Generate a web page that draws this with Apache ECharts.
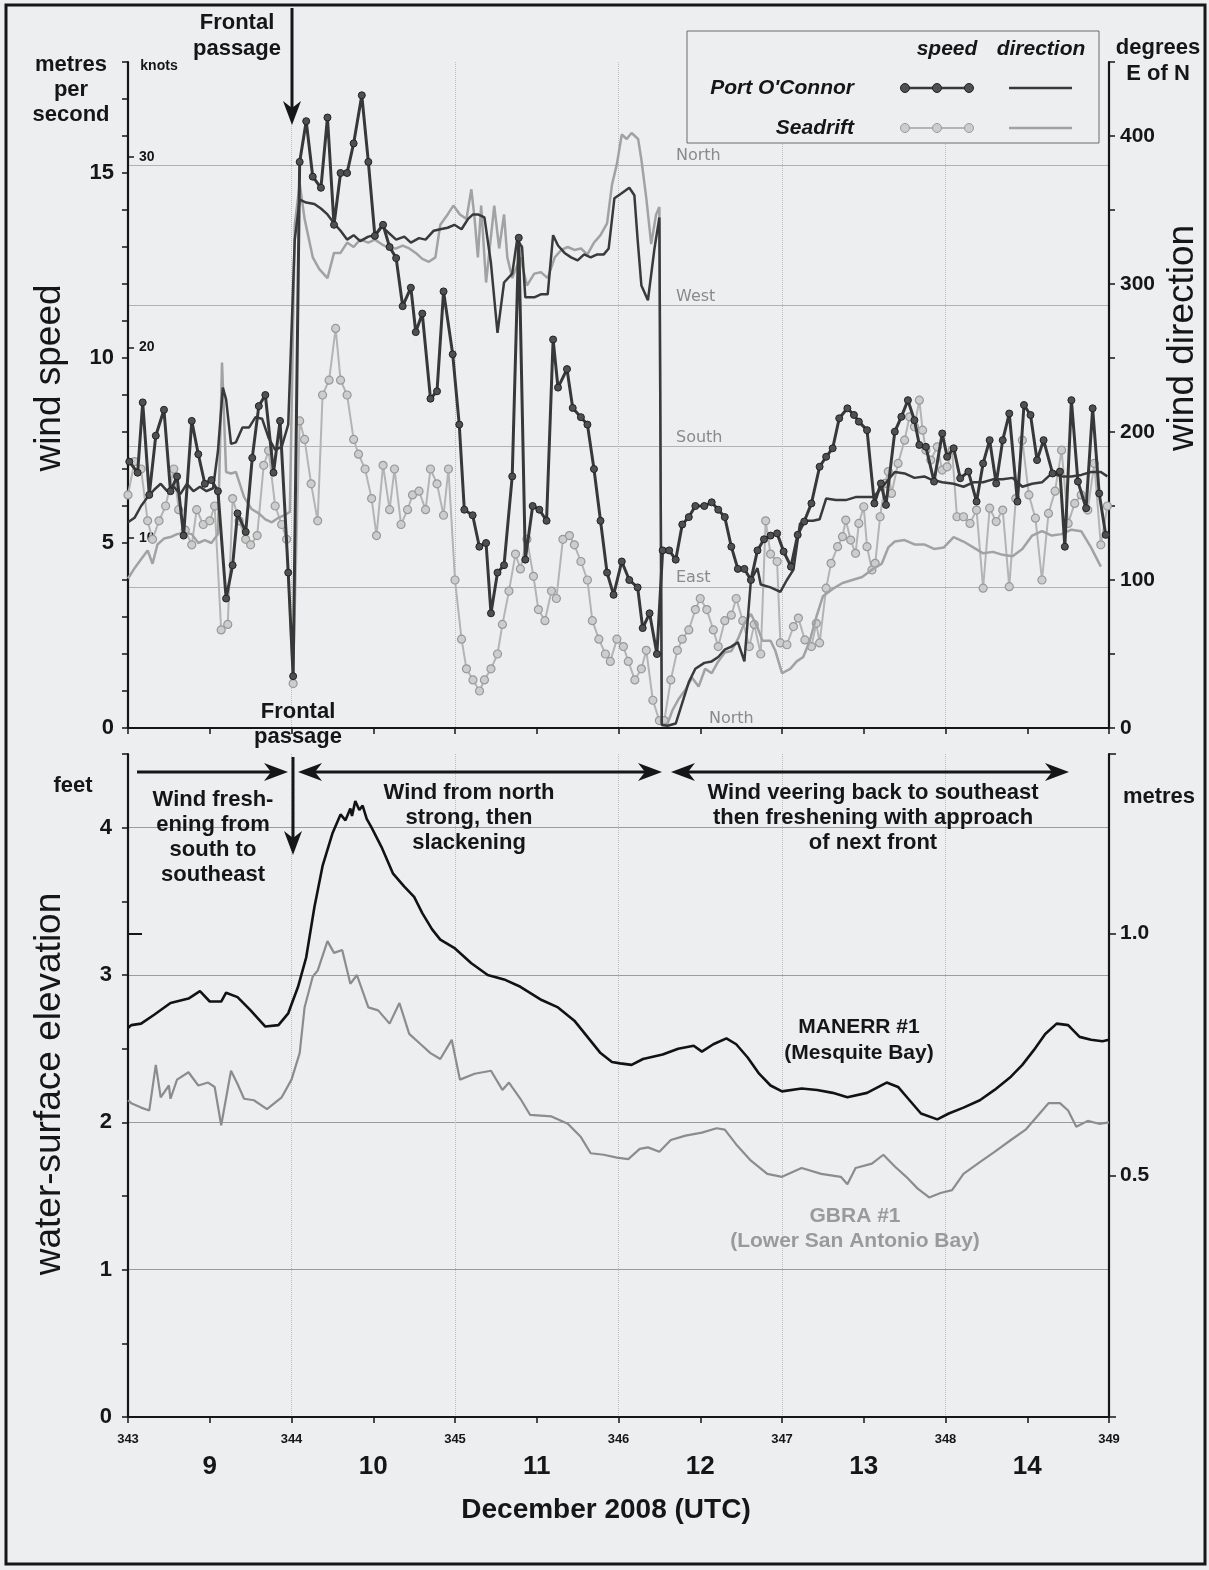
<!DOCTYPE html>
<html>
<head>
<meta charset="utf-8">
<script src="https://cdn.jsdelivr.net/npm/echarts@6/dist/echarts.min.js"></script>
<style>
  html, body { margin: 0; padding: 0; background: #eceef0; }
  #chart { width: 1209px; height: 1570px; }
</style>
</head>
<body>
<div id="chart"></div>
<script>
// ---- Wind at Port O'Connor and Seadrift, December 2008 (day of year, UTC) ----
// speed in metres per second
const portOConnorSpeed = [
  [343.008,7.2],[343.059,6.9],[343.09,8.8],[343.13,6.3],[343.17,7.9],[343.22,8.6],[343.26,6.4],[343.30,6.8],
  [343.34,5.2],[343.39,8.3],[343.43,7.4],[343.47,6.6],[343.51,6.7],[343.55,6.4],[343.60,3.5],[343.64,4.4],
  [343.67,5.8],[343.72,5.3],[343.76,7.3],[343.80,8.7],[343.84,9.0],[343.89,6.9],[343.93,8.3],[343.98,4.2],
  [344.01,1.4],[344.05,15.3],[344.09,16.4],[344.13,14.9],[344.18,14.6],[344.22,16.5],[344.26,13.6],[344.30,15.0],
  [344.34,15.0],[344.38,15.8],[344.43,17.1],[344.47,15.3],[344.51,13.3],[344.56,13.6],[344.60,13.0],[344.64,12.7],
  [344.68,11.4],[344.73,11.9],[344.76,10.7],[344.80,11.2],[344.85,8.9],[344.89,9.1],[344.93,11.8],[344.986,10.1],
  [345.026,8.2],[345.057,5.9],[345.108,5.75],[345.149,4.9],[345.19,5.0],[345.22,3.1],[345.26,4.2],[345.30,4.4],
  [345.35,6.8],[345.39,13.25],[345.43,4.55],[345.475,6.0],[345.516,5.9],[345.56,5.6],[345.60,10.5],[345.63,9.2],
  [345.685,9.7],[345.72,8.65],[345.77,8.4],[345.81,8.2],[345.85,7.0],[345.89,5.6],[345.93,4.2],[345.97,3.6],
  [346.02,4.5],[346.066,4.0],[346.117,3.8],[346.148,2.7],[346.19,3.1],[346.235,2.0],[346.27,4.8],[346.31,4.8],
  [346.35,4.55],[346.39,5.5],[346.43,5.7],[346.47,6.0],[346.525,6.0],[346.57,6.1],[346.61,5.9],[346.65,5.7],
  [346.69,4.9],[346.73,4.3],[346.77,4.3],[346.81,4.0],[346.85,4.8],[346.89,5.1],[346.93,5.2],[346.97,5.26],
  [347.01,4.77],[347.055,4.36],[347.096,5.22],[347.136,5.58],[347.18,6.07],[347.23,7.06],[347.27,7.33],[347.31,7.56],
  [347.35,8.37],[347.40,8.64],[347.44,8.46],[347.47,8.28],[347.52,8.05],[347.565,6.07],[347.605,6.61],[347.636,6.03],
  [347.69,8.01],[347.73,8.41],[347.77,8.86],[347.81,8.32],[347.84,7.65],[347.88,7.60],[347.93,6.66],[347.98,7.96],
  [348.01,7.33],[348.05,7.56],[348.09,6.75],[348.14,6.93],[348.19,6.12],[348.23,7.15],[348.27,7.78],[348.31,6.61],
  [348.35,7.78],[348.39,8.5],[348.44,6.12],[348.48,8.73],[348.52,8.46],[348.56,7.24],[348.60,7.78],[348.655,6.88],
  [348.70,6.93],[348.73,4.9],[348.77,8.86],[348.81,6.66],[348.86,5.94],[348.90,8.64],[348.94,6.34],[348.98,5.22]
];

const seadriftSpeed = [
  [343.00,6.3],[343.04,7.2],[343.08,7.0],[343.12,5.6],[343.15,5.1],[343.19,5.6],[343.23,6.0],[343.28,7.0],
  [343.31,5.9],[343.35,5.35],[343.39,4.95],[343.42,5.9],[343.46,5.5],[343.50,5.6],[343.53,6.0],[343.57,2.65],
  [343.61,2.8],[343.64,6.2],[343.68,5.6],[343.72,5.1],[343.75,4.95],[343.79,5.2],[343.83,7.1],[343.86,7.5],
  [343.90,6.0],[343.94,5.5],[343.97,5.1],[344.01,1.2],[344.05,8.3],[344.08,7.8],[344.12,6.6],[344.16,5.6],
  [344.19,9.0],[344.23,9.4],[344.27,10.8],[344.30,9.4],[344.34,9.0],[344.38,7.8],[344.41,7.4],[344.45,7.0],
  [344.49,6.2],[344.52,5.2],[344.56,7.1],[344.60,5.9],[344.63,7.0],[344.67,5.5],[344.71,5.9],[344.74,6.3],
  [344.78,6.4],[344.82,5.9],[344.85,7.0],[344.89,6.6],[344.93,5.75],[344.96,7.0],[345.00,4.0],[345.04,2.4],
  [345.07,1.6],[345.11,1.3],[345.15,1.0],[345.18,1.3],[345.22,1.6],[345.26,2.0],[345.29,2.8],[345.33,3.7],
  [345.37,4.7],[345.40,4.3],[345.44,5.1],[345.48,4.1],[345.51,3.2],[345.55,2.9],[345.59,3.7],[345.62,3.5],
  [345.66,5.1],[345.70,5.2],[345.73,4.95],[345.77,4.5],[345.81,4.0],[345.84,2.9],[345.88,2.4],[345.92,2.0],
  [345.95,1.8],[345.99,2.4],[346.03,2.2],[346.06,1.8],[346.10,1.3],[346.14,1.6],[346.17,2.1],[346.21,0.75],
  [346.25,0.2],[346.28,0.2],[346.32,1.3],[346.36,2.1],[346.39,2.4],[346.43,2.65],[346.47,3.2],[346.50,3.5],
  [346.54,3.2],[346.58,2.65],[346.61,2.2],[346.65,2.9],[346.69,3.05],[346.72,3.5],[346.76,2.9],[346.80,2.2],
  [346.83,2.8],[346.87,2.0],[346.90,5.6],[346.93,4.7],[346.97,4.5],[346.99,2.3],[347.03,2.25],[347.07,2.74],
  [347.10,2.97],[347.14,2.38],[347.18,2.2],[347.21,2.83],[347.23,2.3],[347.27,3.78],[347.30,4.45],[347.34,4.9],
  [347.37,5.17],[347.39,5.62],[347.42,5.08],[347.45,4.72],[347.47,5.53],[347.50,5.98],[347.52,4.9],[347.55,4.27],
  [347.57,4.45],[347.60,5.71],[347.63,6.61],[347.65,6.93],[347.67,6.34],[347.71,7.15],[347.75,7.78],[347.78,8.41],
  [347.81,8.14],[347.84,8.86],[347.86,8.05],[347.88,7.51],[347.91,7.24],[347.95,7.6],[347.98,6.97],[348.01,7.06],
  [348.04,7.51],[348.07,5.71],[348.11,5.71],[348.15,5.53],[348.19,5.89],[348.23,3.78],[348.27,5.94],[348.31,5.58],
  [348.35,5.89],[348.39,3.82],[348.43,6.2],[348.47,7.78],[348.51,6.3],[348.55,5.67],[348.59,4.0],[348.63,5.8],
  [348.67,6.4],[348.71,7.51],[348.75,5.53],[348.79,6.07],[348.83,6.3],[348.87,5.89],[348.91,7.15],[348.95,4.95],
  [348.99,6.0]
];

// direction in degrees east of north (unwrapped above 360)
const portOConnorDirection = [
  [343.00,139],[343.04,142],[343.08,150],[343.12,156],[343.16,161],[343.20,165],[343.24,160],[343.28,163],
  [343.32,158],[343.36,165],[343.40,160],[343.44,163],[343.48,160],[343.52,162],[343.55,187],[343.58,230],
  [343.60,222],[343.63,192],[343.66,193],[343.70,203],[343.74,203],[343.78,210],[343.82,209],[343.86,196],
  [343.90,188],[343.94,190],[343.98,205],[344.02,330],[344.05,357],[344.09,355],[344.14,354],[344.18,351],
  [344.22,347],[344.26,341],[344.30,336],[344.34,330],[344.38,333],[344.42,329],[344.47,332],[344.51,333],
  [344.55,339],[344.58,336],[344.64,330],[344.69,332],[344.73,328],[344.78,331],[344.82,330],[344.87,336],
  [344.91,337],[344.955,338],[344.996,340],[345.04,337],[345.08,344],[345.11,347],[345.14,347],[345.18,345],
  [345.22,314],[345.26,267],[345.30,301],[345.35,307],[345.38,330],[345.41,325],[345.43,291],[345.485,291],
  [345.525,293],[345.567,293],[345.60,333],[345.63,326],[345.67,321],[345.71,318],[345.75,316],[345.79,320],
  [345.83,318],[345.87,320],[345.91,320],[345.94,324],[345.975,358],[346.015,361],[346.066,365],[346.097,360],
  [346.117,330],[346.14,299],[346.18,289],[346.22,324],[346.25,345],[346.265,2],[346.30,1.5],[346.35,3],
  [346.39,17],[346.43,31],[346.47,40],[346.525,44],[346.57,45],[346.61,48],[346.65,53],[346.69,55],
  [346.73,58],[346.77,45],[346.81,100],[346.85,108],[346.87,97],[346.93,95],[346.99,92],[347.03,100],
  [347.07,107],[347.11,138],[347.15,140],[347.19,140],[347.23,141],[347.27,155],[347.33,154],[347.39,154],
  [347.45,156],[347.51,156],[347.56,156],[347.63,165],[347.69,173],[347.75,172],[347.81,169],[347.87,170],
  [347.91,168],[347.98,166],[348.05,165],[348.11,163],[348.17,166],[348.23,166],[348.29,168],[348.35,168],
  [348.41,169],[348.47,163],[348.53,165],[348.59,166],[348.65,172],[348.71,170],[348.77,170],[348.83,171],
  [348.89,173],[348.95,173],[348.99,170]
];

const seadriftDirection = [
  [343.00,101],[343.04,108],[343.08,114],[343.12,120],[343.15,111],[343.18,124],[343.22,128],[343.26,129],
  [343.30,131],[343.34,132],[343.39,131],[343.43,125],[343.47,127],[343.51,125],[343.55,131],[343.575,247],
  [343.60,173],[343.63,172],[343.66,173],[343.71,156],[343.755,148],[343.80,145],[343.84,141],[343.88,139],
  [343.92,142],[343.96,144],[343.99,146],[344.02,340],[344.05,368],[344.08,344],[344.13,318],[344.17,310],
  [344.22,304],[344.26,321],[344.30,321],[344.34,328],[344.38,325],[344.42,330],[344.47,328],[344.51,330],
  [344.55,327],[344.60,324],[344.64,324],[344.68,326],[344.72,324],[344.76,321],[344.80,317],[344.84,315],
  [344.88,318],[344.91,340],[344.955,347],[344.99,353],[345.03,347],[345.07,344],[345.10,364],[345.12,344],
  [345.14,318],[345.16,353],[345.19,301],[345.24,353],[345.27,324],[345.30,347],[345.32,318],[345.35,304],
  [345.40,318],[345.44,299],[345.485,307],[345.525,308],[345.567,304],[345.61,318],[345.65,323],[345.69,325],
  [345.73,323],[345.77,324],[345.81,320],[345.85,328],[345.89,333],[345.93,341],[345.96,367],[345.99,381],
  [346.02,401],[346.05,398],[346.08,402],[346.12,398],[346.14,384],[346.17,358],[346.20,327],[346.23,347],
  [346.25,352],[346.265,2],[346.30,3],[346.33,12],[346.37,20],[346.41,26],[346.45,34],[346.49,28],
  [346.53,40],[346.57,37],[346.61,45],[346.65,51],[346.69,52],[346.73,60],[346.77,71],[346.81,77],
  [346.85,68],[346.88,59],[346.93,59],[346.96,52],[347.00,37],[347.05,40],[347.09,45],[347.13,48],
  [347.17,59],[347.21,75],[347.25,89],[347.31,94],[347.37,98],[347.43,100],[347.49,102],[347.55,107],
  [347.61,111],[347.65,122],[347.69,126],[347.75,127],[347.81,124],[347.87,124],[347.93,121],[347.99,122],
  [348.05,129],[348.11,126],[348.17,122],[348.23,118],[348.29,119],[348.35,117],[348.41,116],[348.47,121],
  [348.53,130],[348.59,133],[348.65,130],[348.71,131],[348.77,134],[348.83,133],[348.89,122],[348.95,109]
];

// ---- Water-surface elevation, feet ----
const manerr1 = [
  [343.00,2.64],[343.02,2.66],[343.08,2.67],[343.16,2.73],[343.26,2.81],[343.37,2.84],[343.44,2.89],[343.50,2.82],
  [343.57,2.82],[343.60,2.88],[343.67,2.85],[343.75,2.76],[343.84,2.65],[343.92,2.66],[343.98,2.74],[344.04,2.92],
  [344.09,3.12],[344.14,3.46],[344.19,3.74],[344.25,3.96],[344.30,4.09],[344.33,4.05],[344.36,4.13],[344.37,4.08],
  [344.39,4.18],[344.415,4.12],[344.435,4.15],[344.46,4.06],[344.49,4.00],[344.55,3.87],[344.62,3.69],[344.69,3.60],
  [344.75,3.53],[344.80,3.42],[344.86,3.31],[344.91,3.24],[345.00,3.18],[345.10,3.08],[345.20,3.00],[345.30,2.97],
  [345.40,2.92],[345.53,2.83],[345.63,2.78],[345.73,2.69],[345.81,2.58],[345.89,2.47],[345.96,2.41],[346.01,2.40],
  [346.08,2.39],[346.15,2.43],[346.27,2.46],[346.365,2.50],[346.46,2.52],[346.51,2.48],[346.58,2.53],[346.66,2.57],
  [346.72,2.53],[346.79,2.44],[346.86,2.33],[346.93,2.25],[347.00,2.21],[347.12,2.23],[347.215,2.22],[347.31,2.20],
  [347.40,2.17],[347.52,2.20],[347.64,2.27],[347.71,2.24],[347.78,2.15],[347.85,2.06],[347.95,2.02],[348.02,2.06],
  [348.11,2.10],[348.21,2.15],[348.30,2.22],[348.40,2.31],[348.47,2.39],[348.54,2.49],[348.61,2.60],[348.68,2.67],
  [348.75,2.66],[348.82,2.58],[348.89,2.56],[348.96,2.55],[349.00,2.56]
];

const gbra1 = [
  [343.00,2.15],[343.02,2.13],[343.08,2.10],[343.13,2.08],[343.17,2.39],[343.20,2.17],[343.25,2.25],[343.26,2.16],
  [343.30,2.29],[343.37,2.34],[343.43,2.25],[343.49,2.27],[343.53,2.24],[343.57,1.98],[343.63,2.35],[343.67,2.26],
  [343.71,2.16],[343.77,2.15],[343.85,2.09],[343.94,2.17],[344.00,2.29],[344.05,2.47],[344.08,2.78],[344.13,2.99],
  [344.16,3.03],[344.22,3.23],[344.26,3.15],[344.31,3.17],[344.36,2.94],[344.40,3.00],[344.47,2.78],[344.53,2.76],
  [344.60,2.67],[344.66,2.81],[344.72,2.60],[344.79,2.53],[344.85,2.47],[344.91,2.43],[344.98,2.56],[345.03,2.29],
  [345.12,2.33],[345.22,2.35],[345.29,2.22],[345.33,2.27],[345.40,2.16],[345.46,2.05],[345.59,2.04],[345.69,1.99],
  [345.77,1.90],[345.83,1.79],[345.91,1.78],[345.99,1.76],[346.06,1.75],[346.13,1.82],[346.18,1.83],[346.25,1.80],
  [346.32,1.88],[346.41,1.91],[346.51,1.93],[346.60,1.96],[346.65,1.95],[346.72,1.85],[346.81,1.74],[346.91,1.65],
  [347.00,1.63],[347.12,1.69],[347.24,1.65],[347.36,1.63],[347.40,1.58],[347.45,1.69],[347.55,1.72],[347.62,1.78],
  [347.69,1.70],[347.76,1.63],[347.83,1.55],[347.90,1.49],[347.97,1.52],[348.04,1.54],[348.11,1.65],[348.21,1.73],
  [348.30,1.80],[348.40,1.88],[348.49,1.95],[348.56,2.04],[348.63,2.13],[348.70,2.13],[348.75,2.08],[348.80,1.97],
  [348.87,2.01],[348.94,1.99],[349.00,2.00]
];

// ---- Tick labels ----
const dayLabels = ['9', '10', '11', '12', '13', '14'];          // calendar day at each midday
const compassLabels = ['North', 'East', 'South', 'West', 'North'];

// ---- Styling ----
const INK = '#161616';
const FONT = '"Liberation Sans", Arial, Helvetica, sans-serif';
const PAPER = '#eceef0';
const poSpeedLine = '#383838', poSpeedDot = '#505050';
const sdSpeedLine = '#b4b4b4', sdSpeedDot = '#cdcdcd', sdSpeedEdge = '#999999';
const poDirLine = '#3a3a3a', sdDirLine = '#a2a2a2';

const FT_MAX = 4.5, SPEED_MAX = 18;
const KNOTS_PER_MS = 1.943844, M_PER_FT = 0.3048;

const axisLineStyle = { show: true, onZero: false, lineStyle: { color: INK, width: 2.2 } };
const boldLabel = (size, extra) => Object.assign({ color: INK, fontFamily: FONT, fontWeight: 'bold', fontSize: size }, extra || {});

function xAxisFor(grid, showLabels) {
  return {
    type: 'value', gridIndex: grid, min: 343, max: 349, interval: 1,
    axisLine: axisLineStyle,
    axisTick: { show: true, length: 6, lineStyle: { color: INK, width: 1.5 } },
    minorTick: { show: true, splitNumber: 2, length: 6, lineStyle: { color: INK, width: 1.5 } },
    axisLabel: showLabels ? boldLabel(13, { margin: 16 }) : { show: false },
    splitLine: { show: true, showMinLine: false, showMaxLine: false, lineStyle: { color: '#bdbdbd', type: 'dotted', width: 1 } }
  };
}

function txt(x, y, text, size, opts) {
  const o = opts || {};
  return {
    type: 'text', x: x, y: y, rotation: o.rotation || 0, z: 100,
    style: {
      text: text, fill: o.color || INK, fontFamily: FONT,
      fontSize: size, fontWeight: o.weight || 'bold', fontStyle: o.italic ? 'italic' : 'normal',
      align: o.align || 'center', verticalAlign: 'middle', lineHeight: o.lineHeight || Math.round(size * 1.15)
    }
  };
}
function seg(x1, y1, x2, y2, color, w) {
  return { type: 'line', z: 100, shape: { x1: x1, y1: y1, x2: x2, y2: y2 }, style: { stroke: color || INK, lineWidth: w || 3 } };
}
function head(tx, ty, dir) {
  // barbed arrow head; dir = 'r' | 'l' | 'd'
  const L = 24, W = 9, N = 17;
  let pts;
  if (dir === 'r') pts = [[tx, ty], [tx - L, ty - W], [tx - N, ty], [tx - L, ty + W]];
  else if (dir === 'l') pts = [[tx, ty], [tx + L, ty - W], [tx + N, ty], [tx + L, ty + W]];
  else pts = [[tx, ty], [tx - W, ty - L], [tx, ty - N], [tx + W, ty - L]];
  return { type: 'polygon', z: 100, shape: { points: pts }, style: { fill: INK } };
}
function dot(cx, cy, r, fill, stroke) {
  return { type: 'circle', z: 101, shape: { cx: cx, cy: cy, r: r }, style: { fill: fill, stroke: stroke || fill, lineWidth: 1 } };
}

const graphics = [
  // outer frame
  { type: 'rect', z: 90, shape: { x: 6, y: 5, width: 1199, height: 1559 }, style: { fill: 'none', stroke: INK, lineWidth: 3 } },

  // axis titles
  txt(50, 378, 'wind speed', 37, { weight: 'normal', rotation: Math.PI / 2 }),
  txt(1183, 338, 'wind direction', 37, { weight: 'normal', rotation: Math.PI / 2 }),
  txt(50, 1084, 'water-surface elevation', 37, { weight: 'normal', rotation: Math.PI / 2 }),
  txt(606, 1510, 'December 2008 (UTC)', 28),

  // unit captions
  txt(71, 90, 'metres\nper\nsecond', 22, { lineHeight: 25 }),
  txt(159, 66, 'knots', 14),
  txt(1158, 61, 'degrees\nE of N', 22, { lineHeight: 26 }),
  txt(73, 786, 'feet', 22),
  txt(1159, 797, 'metres', 22),

  // frontal passage (upper panel)
  txt(237, 36, 'Frontal\npassage', 22, { lineHeight: 26 }),
  seg(292, 8, 292, 108), head(292, 125, 'd'),

  // frontal passage (lower panel) and wind regimes
  txt(298, 724, 'Frontal\npassage', 22, { lineHeight: 25 }),
  seg(293, 757, 293, 838), head(293, 855, 'd'),
  seg(137, 772, 272, 772), head(288, 772, 'r'),
  seg(314, 772, 646, 772), head(298, 772, 'l'), head(662, 772, 'r'),
  seg(687, 772, 1053, 772), head(671, 772, 'l'), head(1069, 772, 'r'),
  txt(213, 837, 'Wind fresh-\nening from\nsouth to\nsoutheast', 22, { lineHeight: 25 }),
  txt(469, 818, 'Wind from north\nstrong, then\nslackening', 22, { lineHeight: 25 }),
  txt(873, 818, 'Wind veering back to southeast\nthen freshening with approach\nof next front', 22, { lineHeight: 25 }),

  // gauge names
  txt(859, 1040, 'MANERR #1\n(Mesquite Bay)', 21, { lineHeight: 26 }),
  txt(855, 1229, 'GBRA #1\n(Lower San Antonio Bay)', 21, { lineHeight: 25, color: '#9a9a9a' }),

  // legend
  { type: 'rect', z: 95, shape: { x: 687, y: 31, width: 412, height: 112 }, style: { fill: PAPER, stroke: '#6a6a6a', lineWidth: 1 } },
  txt(947, 49, 'speed', 21, { italic: true }),
  txt(1041, 49, 'direction', 21, { italic: true }),
  txt(854, 88, "Port O'Connor", 21, { italic: true, align: 'right' }),
  txt(854, 128, 'Seadrift', 21, { italic: true, align: 'right' }),
  seg(905, 88, 969, 88, poSpeedLine, 2.5), dot(905, 88, 4.5, poSpeedDot, '#222'), dot(937, 88, 4.5, poSpeedDot, '#222'), dot(969, 88, 4.5, poSpeedDot, '#222'),
  seg(905, 128, 969, 128, sdSpeedLine, 2), dot(905, 128, 4.5, sdSpeedDot, sdSpeedEdge), dot(937, 128, 4.5, sdSpeedDot, sdSpeedEdge), dot(969, 128, 4.5, sdSpeedDot, sdSpeedEdge),
  seg(1009, 88, 1072, 88, poDirLine, 2.5),
  seg(1009, 128, 1072, 128, sdDirLine, 2.5)
];

const option = {
  backgroundColor: PAPER,
  animation: false,
  grid: [
    { left: 128, top: 62, width: 981, height: 666 },
    { left: 128, top: 754, width: 981, height: 663 }
  ],
  xAxis: [
    xAxisFor(0, false),
    xAxisFor(1, true),
    { // calendar day numbers under the day-of-year labels
      type: 'value', gridIndex: 1, position: 'bottom', min: 343, max: 349, interval: 0.5,
      axisLine: { show: false }, axisTick: { show: false }, splitLine: { show: false },
      axisLabel: boldLabel(26, {
        margin: 37,
        formatter: function (v) {
          const k = v - 343.5;
          return Math.abs(k - Math.round(k)) < 1e-6 && k >= 0 ? dayLabels[Math.round(k)] : '';
        }
      })
    }
  ],
  yAxis: [
    { // 0: wind speed, m/s
      type: 'value', gridIndex: 0, position: 'left', min: 0, max: SPEED_MAX, interval: 1,
      axisLine: axisLineStyle,
      axisTick: { show: true, length: 6, lineStyle: { color: INK, width: 1.5 } },
      axisLabel: boldLabel(22, { margin: 14, formatter: v => (v % 5 === 0 ? String(v) : '') }),
      splitLine: { show: false }
    },
    { // 1: wind direction, degrees
      type: 'value', gridIndex: 0, position: 'right', min: 0, max: 450, interval: 50,
      axisLine: axisLineStyle,
      axisTick: { show: true, length: 6, lineStyle: { color: INK, width: 1.5 } },
      axisLabel: boldLabel(21, { margin: 11, formatter: v => (v % 100 === 0 ? String(v) : '') }),
      splitLine: { show: false }
    },
    { // 2: wind speed, knots
      type: 'value', gridIndex: 0, position: 'left', min: 0, max: SPEED_MAX * KNOTS_PER_MS, interval: 10,
      axisLine: { show: false },
      axisTick: { show: true, inside: true, length: 6, customValues: [10, 20, 30], lineStyle: { color: INK, width: 1.5 } },
      axisLabel: boldLabel(14, { inside: true, margin: 11, customValues: [10, 20, 30],
        formatter: v => (v > 0 && Math.abs(v % 10) < 1e-6 ? String(Math.round(v)) : '') }),
      splitLine: { show: false }
    },
    { // 3: compass reference lines
      type: 'value', gridIndex: 0, position: 'left', min: 0, max: 666 / 140.8, interval: 1,
      axisLine: { show: false }, axisTick: { show: false },
      axisLabel: {
        inside: true, margin: 548, align: 'left', verticalAlign: 'bottom', lineHeight: 18,
        color: '#8a8a8a', fontSize: 16, fontFamily: '"DejaVu Sans", sans-serif',
        formatter: function (v) {
          const i = Math.round(v);
          if (Math.abs(v - i) > 1e-6 || !compassLabels[i]) return '';
          return i === 0 ? '{n0|' + compassLabels[i] + '}' : compassLabels[i];
        },
        rich: { n0: { padding: [0, 0, 0, 33], color: '#8a8a8a', fontSize: 16, fontFamily: '"DejaVu Sans", sans-serif' } }
      },
      splitLine: { show: true, showMinLine: false, showMaxLine: false, lineStyle: { color: '#b2b2b2', width: 1 } }
    },
    { // 4: water level, feet
      type: 'value', gridIndex: 1, position: 'left', min: 0, max: FT_MAX, interval: 0.5,
      axisLine: axisLineStyle,
      axisTick: { show: true, length: 6, lineStyle: { color: INK, width: 1.5 } },
      axisLabel: boldLabel(22, { margin: 16, formatter: v => (Math.abs(v - Math.round(v)) < 1e-6 ? String(Math.round(v)) : '') }),
      splitLine: { show: false }
    },
    { // 5: water level, metres
      type: 'value', gridIndex: 1, position: 'right', min: 0, max: FT_MAX * M_PER_FT, interval: 0.5,
      axisLine: axisLineStyle,
      axisTick: { show: true, length: 7, lineStyle: { color: INK, width: 1.5 } },
      axisLabel: boldLabel(21, { margin: 11, formatter: v => (v > 0.01 && v < 1.2 ? v.toFixed(1) : '') }),
      splitLine: { show: false }
    },
    { // 6: whole-foot reference lines
      type: 'value', gridIndex: 1, position: 'left', min: 0, max: FT_MAX, interval: 1,
      axisLine: { show: false }, axisTick: { show: false }, axisLabel: { show: false },
      splitLine: { show: true, showMinLine: false, showMaxLine: false, lineStyle: { color: '#9c9c9c', width: 1 } }
    },
    { // 7: one-metre mark on the feet side
      type: 'value', gridIndex: 1, position: 'left', min: 0, max: FT_MAX * M_PER_FT, interval: 1,
      axisLine: { show: false }, axisLabel: { show: false }, splitLine: { show: false },
      axisTick: { show: true, inside: true, length: 14, customValues: [1], lineStyle: { color: INK, width: 2 } }
    }
  ],
  series: [
    {
      name: 'Seadrift speed', type: 'line', xAxisIndex: 0, yAxisIndex: 0, data: seadriftSpeed,
      symbol: 'circle', symbolSize: 8, showAllSymbol: true, z: 2,
      itemStyle: { color: sdSpeedDot, borderColor: sdSpeedEdge, borderWidth: 1.2 },
      lineStyle: { color: sdSpeedLine, width: 2 }
    },
    {
      name: 'Seadrift direction', type: 'line', xAxisIndex: 0, yAxisIndex: 1, data: seadriftDirection,
      symbol: 'none', z: 3, lineStyle: { color: sdDirLine, width: 2.5 }
    },
    {
      name: "Port O'Connor direction", type: 'line', xAxisIndex: 0, yAxisIndex: 1, data: portOConnorDirection,
      symbol: 'none', z: 4, lineStyle: { color: poDirLine, width: 2.5 }
    },
    {
      name: "Port O'Connor speed", type: 'line', xAxisIndex: 0, yAxisIndex: 0, data: portOConnorSpeed,
      symbol: 'circle', symbolSize: 7, showAllSymbol: true, z: 5,
      itemStyle: { color: poSpeedDot, borderColor: '#222', borderWidth: 1 },
      lineStyle: { color: poSpeedLine, width: 3 }
    },
    {
      name: 'MANERR #1', type: 'line', xAxisIndex: 1, yAxisIndex: 4, data: manerr1,
      symbol: 'none', z: 4, lineStyle: { color: '#121212', width: 2.6 }
    },
    {
      name: 'GBRA #1', type: 'line', xAxisIndex: 1, yAxisIndex: 4, data: gbra1,
      symbol: 'none', z: 3, lineStyle: { color: '#8c8c8c', width: 2.2 }
    }
  ],
  graphic: graphics
};

const chart = echarts.init(document.getElementById('chart'), null, { renderer: 'canvas' });
chart.setOption(option);
</script>
</body>
</html>
